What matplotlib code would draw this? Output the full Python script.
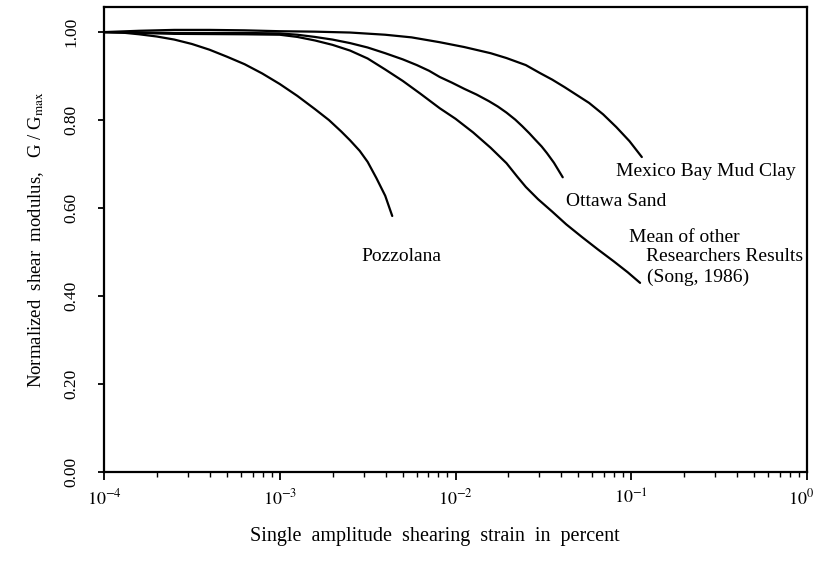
import matplotlib
matplotlib.use("Agg")
import matplotlib.pyplot as plt
import matplotlib.transforms as mtransforms
import numpy as np
from matplotlib.ticker import LogLocator, NullFormatter, FixedLocator

plt.rcParams['font.family'] = 'serif'
plt.rcParams['font.serif'] = ['Liberation Serif', 'DejaVu Serif']
plt.rcParams['mathtext.fontset'] = 'stix'

# strain as log10(percent), modulus ratio G/Gmax
mexico_log = [-4.00, -3.80, -3.60, -3.40, -3.20, -3.00, -2.80, -2.60, -2.40,
              -2.25, -2.09, -1.95, -1.80, -1.71, -1.60, -1.52, -1.45, -1.38,
              -1.31, -1.24, -1.16, -1.085, -1.01, -0.94]
mexico_g = [1.000, 1.003, 1.005, 1.005, 1.004, 1.002, 1.001, 0.999, 0.994,
            0.988, 0.977, 0.966, 0.952, 0.941, 0.925, 0.907, 0.892, 0.875,
            0.857, 0.839, 0.813, 0.784, 0.752, 0.716]

ottawa_log = [-4.00, -3.60, -3.20, -3.00, -2.90, -2.80, -2.70, -2.60, -2.50,
              -2.40, -2.30, -2.22, -2.15, -2.09, -2.02, -1.95, -1.88, -1.81,
              -1.76, -1.71, -1.66, -1.62, -1.58, -1.55, -1.51, -1.48, -1.44,
              -1.39]
ottawa_g = [1.000, 0.998, 0.998, 0.997, 0.994, 0.989, 0.983, 0.975, 0.965,
            0.952, 0.938, 0.925, 0.912, 0.898, 0.885, 0.871, 0.858, 0.843,
            0.831, 0.817, 0.801, 0.786, 0.770, 0.757, 0.740, 0.725, 0.703,
            0.670]

mean_log = [-4.00, -3.60, -3.20, -3.00, -2.90, -2.80, -2.70, -2.60, -2.50,
            -2.40, -2.30, -2.20, -2.09, -2.00, -1.90, -1.80, -1.71, -1.65,
            -1.60, -1.53, -1.45, -1.37, -1.28, -1.19, -1.10, -1.02, -0.95]
mean_g = [1.000, 0.996, 0.995, 0.994, 0.989, 0.981, 0.971, 0.958, 0.940,
          0.915, 0.889, 0.860, 0.827, 0.803, 0.772, 0.737, 0.702, 0.672,
          0.648, 0.620, 0.592, 0.563, 0.534, 0.506, 0.479, 0.454, 0.430]

pozz_log = [-4.00, -3.90, -3.80, -3.70, -3.60, -3.50, -3.40, -3.30, -3.20,
            -3.10, -3.00, -2.90, -2.80, -2.72, -2.65, -2.60, -2.545, -2.50,
            -2.45, -2.40, -2.36]
pozz_g = [1.000, 0.999, 0.995, 0.990, 0.983, 0.973, 0.960, 0.944, 0.927,
          0.906, 0.882, 0.855, 0.825, 0.800, 0.774, 0.754, 0.730, 0.705,
          0.668, 0.628, 0.582]

yticks = [0.0, 0.2, 0.4, 0.6, 0.8, 1.0]
ytick_labels = ["0.00", "0.20", "0.40", "0.60", "0.80", "1.00"]
xticks = [1e-4, 1e-3, 1e-2, 1e-1, 1e0]
xtick_labels = [r"$10^{-4}$", r"$10^{-3}$", r"$10^{-2}$", r"$10^{-1}$", r"$10^{0}$"]

fig = plt.figure(figsize=(8.17, 5.66), dpi=100)
ax = fig.add_axes([0.1273, 0.166, 0.8605, 0.8216])

for lx, g in [(mexico_log, mexico_g), (ottawa_log, ottawa_g),
              (mean_log, mean_g), (pozz_log, pozz_g)]:
    ax.plot(10.0 ** np.array(lx), g, color='black', lw=1.6,
            solid_capstyle='round', solid_joinstyle='round')

ax.set_xscale('log')
ax.set_xlim(1e-4, 1e0)
ax.set_ylim(0, 1.057)

ax.xaxis.set_major_locator(FixedLocator(xticks))
ax.set_xticklabels(xtick_labels, fontsize=13)
ax.xaxis.set_minor_locator(LogLocator(base=10, subs=np.arange(2, 10)))
ax.xaxis.set_minor_formatter(NullFormatter())
ax.set_yticks(yticks)
ax.set_yticklabels(ytick_labels, rotation=90, va='center', fontsize=12.5)

ax.tick_params(axis='x', which='major', direction='out', length=6, width=1.3, pad=6)
ax.tick_params(axis='x', which='minor', direction='out', length=3.5, width=1.0)
ax.tick_params(axis='y', which='major', direction='out', length=4, width=1.3, pad=14)
for s in ax.spines.values():
    s.set_linewidth(1.6)

# last x label sits a little inside the figure edge
last = ax.xaxis.get_major_ticks()[-1].label1
last.set_transform(last.get_transform() +
                   mtransforms.ScaledTranslation(-6 / 100, 0, fig.dpi_scale_trans))

ax.set_ylabel(r"Normalized  shear  modulus,   G / G$_{\rm max}$", fontsize=13.5,
              labelpad=12)
fig.text(435 / 817, 1 - 537 / 566, "Single  amplitude  shearing  strain  in  percent",
         ha='center', va='center', fontsize=14.5)

fs = 14
ax.text(0.0822, 0.682, "Mexico Bay Mud Clay", fontsize=fs, ha='left', va='center')
ax.text(0.0428, 0.614, "Ottawa Sand", fontsize=fs, ha='left', va='center')
ax.text(0.0975, 0.532, "Mean of other", fontsize=fs, ha='left', va='center')
ax.text(0.1216, 0.489, "Researchers Results", fontsize=fs, ha='left', va='center')
ax.text(0.1233, 0.443, "(Song, 1986)", fontsize=fs, ha='left', va='center')
ax.text(0.00292, 0.491, "Pozzolana", fontsize=fs, ha='left', va='center')

fig.savefig("out.png", dpi=100)
